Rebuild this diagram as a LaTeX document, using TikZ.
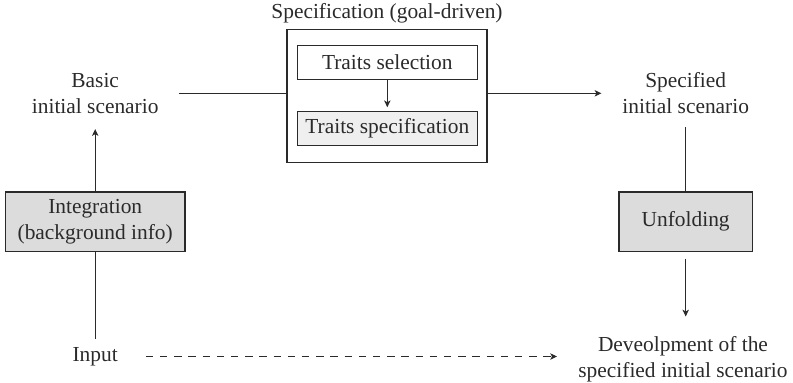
\documentclass[tikz,border=0pt]{standalone}
\usepackage{fontspec}
\setmainfont{Liberation Serif}
\usetikzlibrary{arrows.meta}
\definecolor{boxgray}{HTML}{DCDCDC}
\definecolor{lightbox}{HTML}{EFEFEF}
\definecolor{ink}{HTML}{2A2A2A}
\tikzset{
  every node/.style={font=\fontsize{10.7}{13}\selectfont, text=ink},
  lbl/.style={align=center, inner xsep=10pt, inner ysep=7.6pt},
  gbox/.style={draw=ink, fill=boxgray, line width=0.55pt, align=center, minimum height=29.7pt},
  innerbox/.style={draw=ink, line width=0.55pt, minimum width=90pt, minimum height=16.9pt},
  outerbox/.style={draw=ink, line width=0.55pt, minimum width=100pt, minimum height=66.5pt},
  conn/.style={draw=ink, line width=0.5pt},
  arr/.style={conn, -{Stealth[length=3.4pt,width=3.2pt,inset=0.9pt]}},
  dasharr/.style={arr, dash pattern=on 3.7pt off 3.4pt}
}
\begin{document}
\begin{tikzpicture}[x=0.5pt,y=-0.5pt]
\useasboundingbox (0,0) rectangle (793,382);
% specification block
\node[outerbox] (outer) at (387,95.7) {};
\node (title) at (387,13.5) {Specification (goal-driven)};
\node[innerbox] (sel) at (387.3,62.2) {Traits selection};
\node[innerbox, fill=lightbox] (spec) at (387.3,128.7) {Traits specification};
% texts
\node[lbl] (basic) at (95.2,93.3) {Basic\\initial scenario};
\node[lbl, inner xsep=10.3pt, inner ysep=6.7pt] (specified) at (685.7,93) {Specified\\initial scenario};
\node[lbl, inner xsep=13.8pt, inner ysep=3.8pt] (input) at (95.2,356.5) {Input};
\node[lbl, inner xsep=10.5pt, inner ysep=10pt] (devel) at (683,359.7) {Deveolpment of the\\specified initial scenario};
% gray boxes
\node[gbox, minimum width=89.8pt] (integ) at (95.2,221.7) {Integration\\(background info)};
\node[gbox, minimum width=66.7pt] (unfold) at (685.7,221.7) {Unfolding};
% connectors
\draw[arr] (sel.south) -- ([yshift=2pt]spec.north);
\draw[conn] (basic.east) -- (basic.east -| outer.west);
\draw[arr] (outer.east |- basic.east) -- (specified.west |- basic.east);
\draw[arr] (integ.north) -- (basic.south);
\draw[conn] (integ.south) -- (input.north);
\draw[conn] (specified.south) -- (unfold.north);
\draw[arr, shorten <=3.4pt] (unfold.south) -- (unfold.south |- devel.north);
\draw[dasharr] (input.east) -- (input.east -| devel.west);
\end{tikzpicture}
\end{document}
